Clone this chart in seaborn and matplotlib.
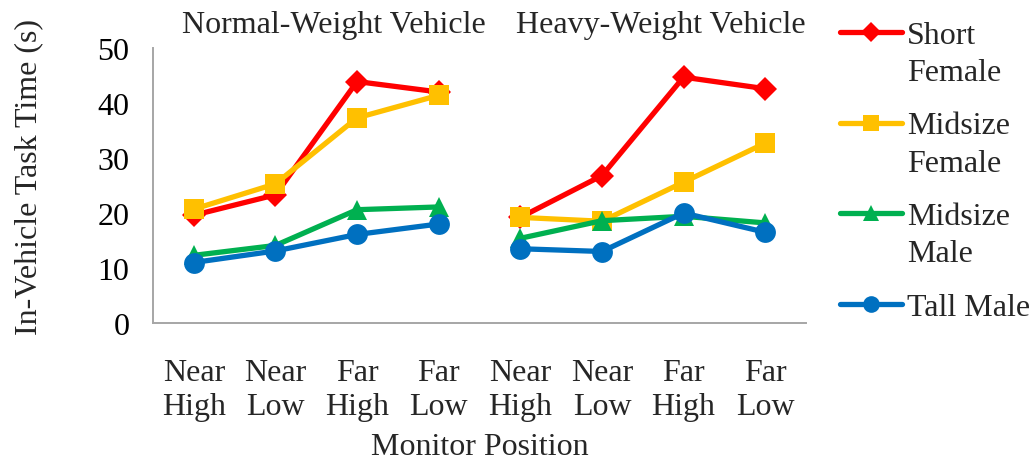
import matplotlib
matplotlib.use("Agg")
import matplotlib.pyplot as plt
from matplotlib.lines import Line2D
import seaborn as sns
import pandas as pd
import numpy as np

sns.set_theme(style="white")
plt.rcParams["font.family"] = ["Liberation Serif", "DejaVu Serif"]

# Data: in-vehicle task time (s) by monitor position
vehicles = ["Normal-Weight Vehicle", "Heavy-Weight Vehicle"]
positions = ["Near\nHigh", "Near\nLow", "Far\nHigh", "Far\nLow"]
groups = ["Short Female", "Midsize Female", "Midsize Male", "Tall Male"]
legend_lines = [["Short", "Female"], ["Midsize", "Female"], ["Midsize", "Male"], ["Tall Male"]]

short_female_normal = [19.6, 23.3, 43.9, 42.0]
short_female_heavy = [19.2, 26.8, 44.7, 42.6]
midsize_female_normal = [20.7, 25.3, 37.3, 41.4]
midsize_female_heavy = [19.2, 18.5, 25.6, 32.7]
midsize_male_normal = [12.3, 14.1, 20.6, 21.1]
midsize_male_heavy = [15.4, 18.6, 19.4, 18.2]
tall_male_normal = [11.0, 13.1, 16.1, 18.0]
tall_male_heavy = [13.5, 13.0, 20.0, 16.5]

values = {
    "Short Female": [short_female_normal, short_female_heavy],
    "Midsize Female": [midsize_female_normal, midsize_female_heavy],
    "Midsize Male": [midsize_male_normal, midsize_male_heavy],
    "Tall Male": [tall_male_normal, tall_male_heavy],
}

colors = {"Short Female": "#FF0000", "Midsize Female": "#FFC000",
          "Midsize Male": "#00B050", "Tall Male": "#0070C0"}
markers = {"Short Female": "D", "Midsize Female": "s",
           "Midsize Male": "^", "Tall Male": "o"}
msizes = {"Short Female": 12.5, "Midsize Female": 14, "Midsize Male": 15, "Tall Male": 15}

rows = []
for g in groups:
    for vi, v in enumerate(vehicles):
        for pi, p in enumerate(positions):
            rows.append({"group": g, "vehicle": v, "slot": vi * len(positions) + pi + 0.5,
                         "time": values[g][vi][pi]})
df = pd.DataFrame(rows)

W, H = 1036, 464
fig = plt.figure(figsize=(W / 100, H / 100), dpi=100)
ax = fig.add_axes([153 / W, 1 - 324 / H, (806 - 153) / W, (324 - 49) / H])

for g in groups:
    for v in vehicles:
        sub = df[(df.group == g) & (df.vehicle == v)]
        sns.lineplot(data=sub, x="slot", y="time", ax=ax, color=colors[g],
                     marker=markers[g], markersize=msizes[g], linewidth=3.8,
                     markeredgewidth=0, legend=False)

FS = 23
AXIS_GRAY = "#a6a6a6"
ax.set_xlim(0, 8)
ax.set_ylim(0, 50)
ax.set_yticks(np.arange(0, 51, 10))
ax.set_xticks(np.arange(0.5, 8, 1))
ax.set_xticklabels(positions * 2, fontsize=FS, linespacing=1.24)
ax.set_xticks(np.arange(0, 9, 1), minor=True)
ax.tick_params(axis="x", which="major", length=0, pad=25)
ax.tick_params(axis="x", which="minor", length=9, width=1.4, color=AXIS_GRAY, direction="out")
ax.tick_params(axis="y", length=10, width=1.4, color=AXIS_GRAY, direction="out", pad=7,
               labelsize=FS, labelcolor="black")

for side in ["top", "right"]:
    ax.spines[side].set_visible(False)
for side in ["left", "bottom"]:
    ax.spines[side].set_color(AXIS_GRAY)
    ax.spines[side].set_linewidth(1.4)

ax.set_xlabel("Monitor Position", fontsize=FS, labelpad=8)
ax.set_ylabel("In-Vehicle Task Time (s)", fontsize=FS)
ax.yaxis.set_label_coords(-(153 - 43) / 653, (324 - 177) / 275)

for vi, v in enumerate(vehicles):
    ax.text(vi * 4 + 2.22, 52.9, v, ha="center", va="baseline", fontsize=FS)

# Legend: handle beside the first line of each label
y0, step, line_gap = 33, 90.5, 37
for i, g in enumerate(groups):
    yp = y0 + i * step
    fy = 1 - yp / H
    fig.add_artist(Line2D([840 / W, 902 / W], [fy, fy], color=colors[g], linewidth=3.8,
                          solid_capstyle="round"))
    fig.add_artist(Line2D([871 / W], [fy], color=colors[g], marker=markers[g],
                          markersize=msizes[g] * 0.8, markeredgewidth=0, linestyle="none"))
    for j, txt in enumerate(legend_lines[i]):
        fig.text(907 / W, 1 - (yp + j * line_gap) / H, txt, fontsize=FS,
                 ha="left", va="center_baseline")

fig.savefig("out.png", dpi=100)
